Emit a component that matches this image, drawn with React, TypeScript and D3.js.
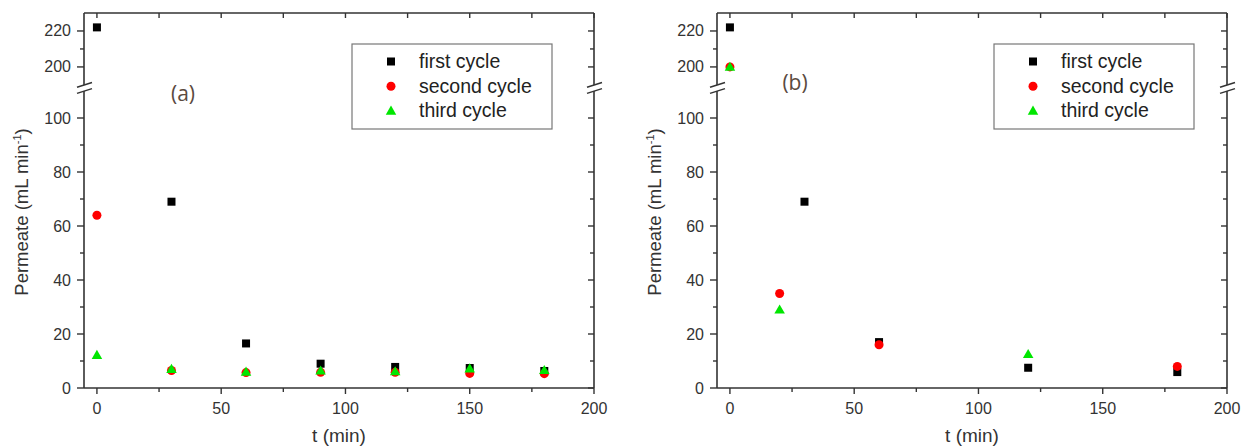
import React from 'react';
import * as d3 from 'd3';

// ---- data ----
const timeA = [0, 30, 60, 90, 120, 150, 180];
const firstA = [222, 69, 16.5, 9, 7.8, 7.4, 6.3];
const secondA = [64, 6.5, 5.7, 5.8, 5.8, 5.4, 5.3];
const thirdA = [12.2, 7, 6, 6.4, 6.1, 7.2, 6.6];

const timeFirstB = [0, 30, 60, 120, 180];
const firstB = [222, 69, 17, 7.5, 5.9];
const timeSecondB = [0, 20, 60, 180];
const secondB = [200, 35, 16, 8];
const timeThirdB = [0, 20, 120];
const thirdB = [200, 29, 12.5];

const seriesNames = ['first cycle', 'second cycle', 'third cycle'];
const seriesColors = ['#000000', '#ff0000', '#00e600'];
const seriesShapes = ['square', 'circle', 'triangle'];

const xTicks = [0, 50, 100, 150, 200];
const xMinor = [25, 75, 125, 175];
const yLowTicks = [0, 20, 40, 60, 80, 100];
const yLowMinor = [10, 30, 50, 70, 90];
const yHighTicks = [200, 220];
const yHighMinor = [210];

const AX = '#333333';
const FONT = '"Liberation Sans", Arial, sans-serif';

function Marker({ shape, x, y, color }: { shape: string; x: number; y: number; color: string }) {
  if (shape === 'square') return <rect x={x - 4} y={y - 4} width={8} height={8} fill={color} />;
  if (shape === 'circle') return <circle cx={x} cy={y} r={4.5} fill={color} />;
  const s = d3.symbol().type(d3.symbolTriangle).size(48)();
  return <path d={s || ''} transform={`translate(${x},${y + 0.8})`} fill={color} />;
}

type Series = { t: number[]; v: number[] };

function Panel({ left, right, label, labelX, labelY, legendX, series }: {
  left: number; right: number; label: string; labelX: number; labelY: number; legendX: number; series: Series[];
}) {
  const top = 13, bottom = 388;
  const x = d3.scaleLinear().domain([-5.2, 200]).range([left, right]);
  const yLow = d3.scaleLinear().domain([0, 110]).range([bottom, 91]);
  const yHigh = d3.scaleLinear().domain([190, 230]).range([84.9, top]);
  const yv = (v: number) => (v >= 150 ? yHigh(v) : yLow(v));
  const breakTop = yHigh(190);
  const breakBot = yLow(110);
  const legW = 200, legTop = 44, legH = 85;

  const breakMarks = (ax: number) => (
    <g>
      <rect x={ax - 9} y={breakTop} width={18} height={breakBot - breakTop} fill="white" />
      <line x1={ax - 7} y1={breakTop + 2.4} x2={ax + 8} y2={breakTop - 2.4} stroke={AX} strokeWidth={1.5} />
      <line x1={ax - 7} y1={breakBot + 2.4} x2={ax + 8} y2={breakBot - 2.4} stroke={AX} strokeWidth={1.5} />
    </g>
  );

  return (
    <g>
      {/* frame */}
      <line x1={left} y1={top} x2={right} y2={top} stroke={AX} strokeWidth={1.6} />
      <line x1={left} y1={bottom} x2={right} y2={bottom} stroke={AX} strokeWidth={1.6} />
      <line x1={left} y1={top} x2={left} y2={breakTop} stroke={AX} strokeWidth={1.6} />
      <line x1={left} y1={breakBot} x2={left} y2={bottom} stroke={AX} strokeWidth={1.6} />
      <line x1={right} y1={top} x2={right} y2={breakTop} stroke={AX} strokeWidth={1.6} />
      <line x1={right} y1={breakBot} x2={right} y2={bottom} stroke={AX} strokeWidth={1.6} />
      {breakMarks(left)}
      {breakMarks(right)}

      {/* x ticks */}
      {xTicks.map((t) => (
        <g key={'xt' + t}>
          <line x1={x(t)} x2={x(t)} y1={bottom} y2={bottom + 6} stroke={AX} strokeWidth={1.4} />
          <line x1={x(t)} x2={x(t)} y1={top} y2={top + 5} stroke={AX} strokeWidth={1.4} />
          <text x={x(t)} y={414} textAnchor="middle" fontSize={16} fill={AX} fontFamily={FONT}>{t}</text>
        </g>
      ))}
      {xMinor.map((t) => (
        <g key={'xm' + t}>
          <line x1={x(t)} x2={x(t)} y1={bottom} y2={bottom + 4} stroke={AX} strokeWidth={1.4} />
          <line x1={x(t)} x2={x(t)} y1={top} y2={top + 5} stroke={AX} strokeWidth={1.4} />
        </g>
      ))}

      {/* y ticks */}
      {[...yLowTicks.map((v) => yLow(v)), ...yHighTicks.map((v) => yHigh(v))].map((yy, i) => (
        <g key={'yt' + i}>
          <line x1={left - 7} x2={left} y1={yy} y2={yy} stroke={AX} strokeWidth={1.4} />
          <line x1={right - 6} x2={right} y1={yy} y2={yy} stroke={AX} strokeWidth={1.4} />
        </g>
      ))}
      {[...yLowMinor.map((v) => yLow(v)), ...yHighMinor.map((v) => yHigh(v))].map((yy, i) => (
        <g key={'ym' + i}>
          <line x1={left - 4} x2={left} y1={yy} y2={yy} stroke={AX} strokeWidth={1.4} />
          <line x1={right - 4} x2={right} y1={yy} y2={yy} stroke={AX} strokeWidth={1.4} />
        </g>
      ))}
      {yLowTicks.map((v) => (
        <text key={'yl' + v} x={left - 13} y={yLow(v) + 5.5} textAnchor="end" fontSize={16} fill={AX} fontFamily={FONT}>{v}</text>
      ))}
      {yHighTicks.map((v) => (
        <text key={'yh' + v} x={left - 13} y={yHigh(v) + 5.5} textAnchor="end" fontSize={16} fill={AX} fontFamily={FONT}>{v}</text>
      ))}

      {/* axis titles */}
      <text x={(left + right) / 2} y={442} textAnchor="middle" fontSize={19} fill={AX} fontFamily={FONT}>t (min)</text>
      <text transform={`translate(${left - 56},212) rotate(-90)`} textAnchor="middle" fontSize={18.5} fill={AX} fontFamily={FONT}>
        Permeate (mL min<tspan fontSize={11} dy={-7}>-1</tspan><tspan dy={7}>)</tspan>
      </text>

      {/* panel label */}
      <text x={labelX} y={labelY} textAnchor="middle" fontSize={21} fill="#5a4a40" fontFamily='"Open Sans", sans-serif'>{label}</text>

      {/* data */}
      {series.map((s, si) => (
        <g key={'s' + si}>
          {s.t.map((t, i) => (
            <Marker key={i} shape={seriesShapes[si]} x={x(t)} y={yv(s.v[i])} color={seriesColors[si]} />
          ))}
        </g>
      ))}

      {/* legend */}
      <rect x={legendX} y={legTop} width={legW} height={legH} fill="white" stroke="#777" strokeWidth={1.2} />
      {seriesNames.map((n, i) => (
        <g key={'lg' + i}>
          <Marker shape={seriesShapes[i]} x={legendX + 39} y={legTop + 17.5 + i * 24.7} color={seriesColors[i]} />
          <text x={legendX + 67} y={legTop + 24 + i * 24.7} fontSize={19.5} fill="#222" fontFamily={FONT}>{n}</text>
        </g>
      ))}
    </g>
  );
}

export default function App() {
  return (
    <svg width={1241} height={448} style={{ position: 'absolute', left: 0, top: 0, background: 'white' }}>
      <rect width={1241} height={448} fill="white" />
      <Panel left={84} right={594} label="(a)" labelX={183} labelY={101} legendX={352}
        series={[{ t: timeA, v: firstA }, { t: timeA, v: secondA }, { t: timeA, v: thirdA }]} />
      <Panel left={717} right={1227} label="(b)" labelX={795} labelY={90} legendX={994}
        series={[{ t: timeFirstB, v: firstB }, { t: timeSecondB, v: secondB }, { t: timeThirdB, v: thirdB }]} />
    </svg>
  );
}
